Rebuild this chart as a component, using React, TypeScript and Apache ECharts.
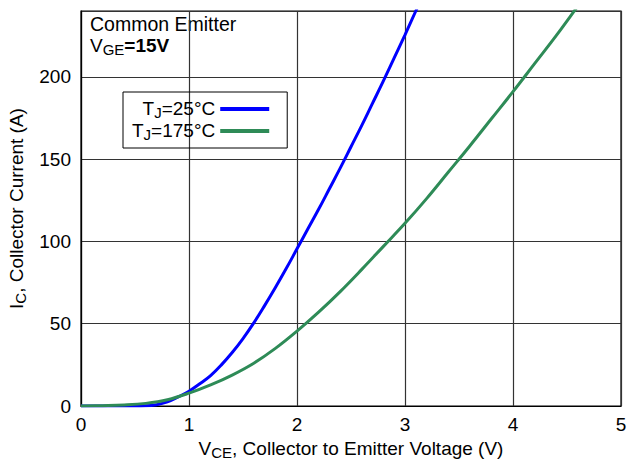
import React, { useEffect, useRef } from "react";
import * as echarts from "echarts";

const FONT = "'Liberation Sans', Arial, Helvetica, sans-serif";

const xTicks = [0, 1, 2, 3, 4, 5];
const yTicks = [0, 50, 100, 150, 200];

const seriesNames = ["TJ=25°C", "TJ=175°C"];
const seriesColors = ["#0000ff", "#2e8b57"];

const blueX = [0, 0.1, 0.2, 0.3, 0.4, 0.5, 0.6, 0.7, 0.8, 0.9, 1.0, 1.1, 1.2, 1.3, 1.4, 1.5, 1.6, 1.7, 1.8, 1.9, 2.0, 2.1, 2.2, 2.3, 2.4, 2.5, 2.6, 2.7, 2.8, 2.9, 3.0, 3.1, 3.2];
const blueY = [0, 0, 0, 0, 0, 0, 0.1, 0.8, 2.5, 5.5, 9, 13.5, 18.5, 25, 32.5, 41, 50.5, 61, 72, 83.5, 95.5, 107.5, 119.5, 132, 144.5, 157.5, 170.5, 184, 197.5, 211.5, 225.5, 240, 254.5];

const greenX = [0, 0.2, 0.4, 0.6, 0.8, 1.0, 1.2, 1.4, 1.6, 1.8, 2.0, 2.2, 2.4, 2.6, 2.8, 3.0, 3.2, 3.4, 3.6, 3.8, 4.0, 4.2, 4.4, 4.6];
const greenY = [0, 0.2, 0.6, 1.6, 3.8, 7.8, 12.8, 18.8, 26, 35, 45.5, 57, 69.5, 83, 97, 111, 126, 142, 158, 174.5, 191, 208, 225, 243];

const rich = {
  n: { fontSize: 19, fontFamily: FONT, color: "#000", verticalAlign: "top", lineHeight: 20 },
  s: { fontSize: 15, fontFamily: FONT, color: "#000", verticalAlign: "top", lineHeight: 15, padding: [6, 0, 0, 0] },
  b: { fontSize: 19, fontFamily: FONT, color: "#000", fontWeight: "bold", verticalAlign: "top", lineHeight: 20 },
};

export default function App() {
  const ref = useRef<HTMLDivElement>(null);
  useEffect(() => {
    if (!ref.current) return;
    const chart = echarts.init(ref.current, null, { renderer: "svg" });
    const zip = (xs: number[], ys: number[]) => xs.map((x, i) => [x, ys[i]]);
    chart.setOption({
      animation: false,
      backgroundColor: "#fff",
      grid: {
        left: 81,
        right: 7,
        top: 11,
        bottom: 54,
        show: true,
        borderColor: "#000",
        borderWidth: 1.2,
        containLabel: false,
        outerBoundsMode: "none",
      },
      xAxis: {
        type: "value",
        min: 0,
        max: 5,
        interval: 1,
        name: "{n|V}{s|CE}{n|, Collector to Emitter Voltage (V)}",
        nameLocation: "middle",
        nameGap: 33,
        nameTextStyle: { rich },
        axisLine: { show: true, lineStyle: { color: "#000", width: 1.2 } },
        axisTick: { show: false },
        axisLabel: {
          fontSize: 19,
          fontFamily: FONT,
          color: "#000",
          margin: 9,
          formatter: (v: number) => (xTicks.includes(v) ? String(v) : ""),
        },
        splitLine: { show: true, lineStyle: { color: "#333", width: 1.2 } },
      },
      yAxis: {
        type: "value",
        min: 0,
        max: 240,
        interval: 50,
        name: "{n|I}{s|C}{n|, Collector Current (A)}",
        nameLocation: "middle",
        nameGap: 50,
        nameTextStyle: { rich },
        axisLine: { show: true, lineStyle: { color: "#000", width: 1.2 } },
        axisTick: { show: false },
        axisLabel: {
          fontSize: 19,
          fontFamily: FONT,
          color: "#000",
          margin: 10,
          showMaxLabel: false,
          formatter: (v: number) => (yTicks.includes(v) ? String(v) : ""),
        },
        splitLine: { show: true, lineStyle: { color: "#333", width: 1.2 } },
      },
      legend: {
        orient: "vertical",
        align: "right",
        left: 123,
        top: 92,
        selectedMode: false,
        borderColor: "#000",
        borderWidth: 1,
        padding: [7, 18, 6, 9],
        itemGap: 1,
        itemWidth: 49,
        itemHeight: 4,
        icon: "rect",
        data: seriesNames,
        formatter: (name: string) => `{n|T}{s|J}{n|${name.slice(2)}}`,
        textStyle: { fontSize: 19, fontFamily: FONT, color: "#000", rich },
      },
      graphic: [
        {
          type: "text",
          left: 90,
          top: 14,
          style: { text: "Common Emitter", fontSize: 19.5, fontFamily: FONT, fill: "#000" },
        },
        {
          type: "text",
          left: 90,
          top: 36,
          style: { text: "{n|V}{s|GE}{b|=15V}", rich },
        },
      ],
      series: [
        {
          name: seriesNames[0],
          type: "line",
          data: zip(blueX, blueY),
          smooth: 0.4,
          showSymbol: false,
          lineStyle: { color: seriesColors[0], width: 3 },
          itemStyle: { color: seriesColors[0] },
          clip: true,
        },
        {
          name: seriesNames[1],
          type: "line",
          data: zip(greenX, greenY),
          smooth: 0.4,
          showSymbol: false,
          lineStyle: { color: seriesColors[1], width: 3 },
          itemStyle: { color: seriesColors[1] },
          clip: true,
        },
      ],
    });
    return () => chart.dispose();
  }, []);
  return <div ref={ref} style={{ position: "fixed", left: 0, top: 0, width: 628, height: 460 }} />;
}
